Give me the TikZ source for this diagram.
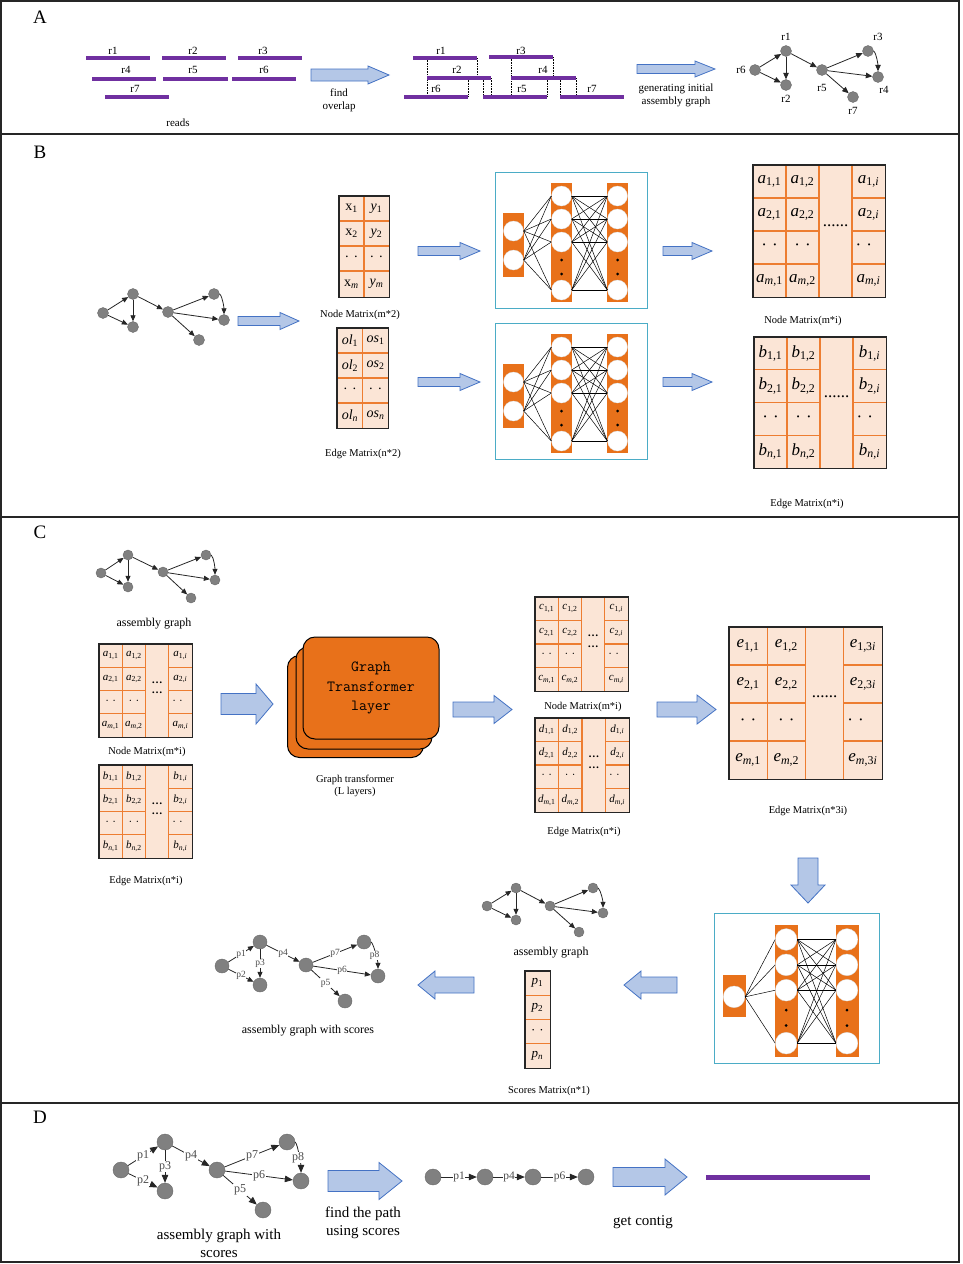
\documentclass[tikz,border=0pt]{standalone}
\usepackage{fontspec}
\setmainfont{Liberation Serif}
\usetikzlibrary{arrows.meta,calc}

\definecolor{purp}{HTML}{7030A0}
\definecolor{ngray}{HTML}{808080}
\definecolor{ngrayd}{HTML}{6A6A6A}
\definecolor{arrfill}{HTML}{B4C7E7}
\definecolor{arrdraw}{HTML}{4472C4}
\definecolor{matfill}{HTML}{FBE5D6}
\definecolor{matgrid}{HTML}{ED7D31}
\definecolor{netcyan}{HTML}{4BACC6}
\definecolor{orng}{HTML}{E8711A}

\newcommand\gtl{6pt}
\newcommand\gtw{5pt}

\tikzset{
 panelline/.style={line width=1.3pt,draw=black!85},
 readbar/.style={line width=4pt,draw=purp},
 ovl/.style={line width=0.6pt,densely dotted,draw=black},
 gn/.style={circle,fill=ngray,draw=ngrayd,line width=0.4pt,inner sep=0pt},
 ge/.style={line width=0.8pt,draw=black!85,-{Triangle[length=\gtl,width=\gtw]}},
 elbl/.style={fill=white,inner sep=0.6pt,text=black!70},
 barr/.style={fill=arrfill,draw=arrdraw,line width=0.8pt},
 matbox/.style={fill=matfill,draw=none,inner sep=0pt},
 matgl/.style={draw=matgrid,line width=1.1pt},
 matbd/.style={draw=black!85,line width=1.4pt},
 netbox/.style={draw=netcyan,line width=1.4pt,inner sep=0pt,fill=white},
 ncol/.style={fill=orng,draw=none,inner sep=0pt},
 ncirc/.style={circle,fill=white,draw=black!15,line width=0.3pt,inner sep=0pt},
 ndot/.style={circle,fill=black,inner sep=0pt,minimum size=3pt},
 nline/.style={line width=0.5pt,draw=black},
 gtbox/.style={rounded corners=12pt,fill=orng,draw=black,line width=1pt,minimum width=136pt,minimum height=102pt,inner sep=0pt},
 lab/.style={font=\fontsize{10.5}{12}\selectfont},
 lab11/.style={font=\fontsize{11}{13}\selectfont},
 lab12/.style={font=\fontsize{12}{14}\selectfont},
 lab15/.style={font=\fontsize{15}{18.5}\selectfont,align=center},
 pletter/.style={font=\fontsize{19}{22}\selectfont},
}

\newcommand\mxent[2]{\textit{#1}\textsubscript{#2}}
\newcommand\mxdots{·\hspace{0.3em}·}

% block arrow: tail x, tip x, centre y, shaft half, head half, head base x
\newcommand\barrow[6]{\filldraw[barr] (#1,{#3-#4}) -- (#6,{#3-#4}) -- (#6,{#3-#5}) -- (#2,#3) -- (#6,{#3+#5}) -- (#6,{#3+#4}) -- (#1,{#3+#4}) -- cycle;}
% down arrow: centre x, top y, tip y, shaft half, head half, head base y
\newcommand\dbarrow[6]{\filldraw[barr] ({#1-#4},#2) -- ({#1-#4},#6) -- ({#1-#5},#6) -- (#1,#3) -- ({#1+#5},#6) -- ({#1+#4},#6) -- ({#1+#4},#2) -- cycle;}

% seven node graph
\newcommand\gsev[9]{%
 \node[gn,minimum size=#2] (#1a) at (#3) {};
 \node[gn,minimum size=#2] (#1b) at (#4) {};
 \node[gn,minimum size=#2] (#1c) at (#5) {};
 \node[gn,minimum size=#2] (#1d) at (#6) {};
 \node[gn,minimum size=#2] (#1e) at (#7) {};
 \node[gn,minimum size=#2] (#1f) at (#8) {};
 \node[gn,minimum size=#2] (#1g) at (#9) {};
 \draw[ge] (#1a) -- (#1b);
 \draw[ge] (#1a) -- (#1c);
 \draw[ge] (#1b) -- (#1c);
 \draw[ge] (#1b) -- (#1d);
 \draw[ge] (#1d) -- (#1e);
 \draw[ge] (#1d) -- (#1f);
 \draw[ge] (#1d) -- (#1g);
 \draw[ge] (#1e.east) .. controls +(3,3) and +(0,-6) .. (#1f.north);
}
\newcommand\gscore[2]{%
 \begin{scope}[font=\fontsize{#2}{#2}\selectfont]
 \node[elbl] (#1p1) at ($(#1a)!0.5!(#1b)$) {p1};
 \node[elbl] (#1p2) at ($(#1a)!0.5!(#1c)$) {p2};
 \node[elbl] (#1p3) at ($(#1b)!0.5!(#1c)$) {p3};
 \node[elbl] (#1p4) at ($(#1b)!0.5!(#1d)$) {p4};
 \node[elbl] (#1p7) at ($(#1d)!0.5!(#1e)$) {p7};
 \node[elbl] (#1p6) at ($(#1d)!0.5!(#1f)$) {p6};
 \node[elbl] (#1p5) at ($(#1d)!0.5!(#1g)$) {p5};
 \node[elbl] (#1p8) at ($(#1e.east)!0.5!(#1f.north)$) {p8};
 \end{scope}}

% matrix with 4x4 cells, middle column dotted
\newcommand\mymat[9]{%
 \node[matbox,anchor=north west,minimum width={4*#5},minimum height={4*#6}] (#1) at (#3,#4) {};
 \foreach \k in {1,2,3} \draw[matgl] ({#3+\k*#5},#4) -- ({#3+\k*#5},{#4+4*#6});
 \foreach \rr in {1,2,3} {%
  \draw[matgl] (#3,{#4+\rr*#6}) -- ({#3+2*#5},{#4+\rr*#6});
  \draw[matgl] ({#3+3*#5},{#4+\rr*#6}) -- ({#3+4*#5},{#4+\rr*#6});}
 \draw[matbd] (#1.north west) rectangle (#1.south east);
 \begin{scope}[font=\fontsize{#7}{#7}\selectfont]
  \node (#1-11) at ({#3+0.5*#5},{#4+0.5*#6}) {\mxent{#2}{1,1}};
  \node (#1-12) at ({#3+1.5*#5},{#4+0.5*#6}) {\mxent{#2}{1,2}};
  \node (#1-1i) at ({#3+3.5*#5},{#4+0.5*#6}) {\mxent{#2}{1,#8}};
  \node (#1-21) at ({#3+0.5*#5},{#4+1.5*#6}) {\mxent{#2}{2,1}};
  \node (#1-22) at ({#3+1.5*#5},{#4+1.5*#6}) {\mxent{#2}{2,2}};
  \node (#1-2i) at ({#3+3.5*#5},{#4+1.5*#6}) {\mxent{#2}{2,#8}};
  \node (#1-31) at ({#3+0.5*#5},{#4+2.5*#6}) {\mxdots};
  \node (#1-32) at ({#3+1.5*#5},{#4+2.5*#6}) {\mxdots};
  \node[anchor=west] (#1-3i) at ({#3+3*#5},{#4+2.5*#6}) {\mxdots};
  \node (#1-n1) at ({#3+0.5*#5},{#4+3.5*#6}) {\mxent{#2}{\textit{#9},1}};
  \node (#1-n2) at ({#3+1.5*#5},{#4+3.5*#6}) {\mxent{#2}{\textit{#9},2}};
  \node (#1-ni) at ({#3+3.5*#5},{#4+3.5*#6}) {\mxent{#2}{\textit{#9},#8}};
  \ifdim #5pt>30pt
   \node[anchor=base] (#1-dd) at ({#3+2.5*#5},{#4+1.85*#6}) {......};
  \else
   \node[anchor=base,inner sep=0pt] (#1-d1) at ({#3+2.5*#5},{#4+1.68*#6}) {\textbf{…}};
   \node[anchor=base,inner sep=0pt] (#1-d2) at ({#3+2.5*#5},{#4+2.15*#6}) {\textbf{…}};
  \fi
 \end{scope}}

% neural network: prefix, x0, y0, xscale, yscale, input col top, bottom, input ys
\newcommand\nnet[8]{%
\begin{scope}[shift={(#2,#3)},xscale=#4,yscale=#5]
 \node[netbox,anchor=north west,minimum width={152*#4},minimum height={136*#5}] (#1box) at (0,0) {};
 \node[ncol,anchor=north west,minimum width={21*#4},minimum height={(#7-#6)*#5}] (#1cin) at (8,#6) {};
 \node[ncol,anchor=north west,minimum width={21*#4},minimum height={119*#5}] (#1ch) at (56,11) {};
 \node[ncol,anchor=north west,minimum width={21*#4},minimum height={119*#5}] (#1co) at (112,11) {};
 \foreach \yy [count=\k] in {24,47,70,118} {
  \node[ncirc,minimum size={20*#4}] (#1h\k) at (66.5,\yy) {};
  \node[ncirc,minimum size={20*#4}] (#1o\k) at (122.5,\yy) {};}
 \foreach \yy [count=\k] in {88,102} {
  \node[ndot] (#1hd\k) at (66.5,\yy) {};
  \node[ndot] (#1od\k) at (122.5,\yy) {};}
 \foreach \k in {1,...,4} \foreach \j in {1,...,4} \draw[nline] (#1h\k.east) -- (#1o\j.west);
 \foreach \yy [count=\k] in {#8} {
  \node[ncirc,minimum size={20*#4}] (#1i\k) at (18.5,\yy) {};
  \foreach \j in {1,...,4} \draw[nline] (#1i\k.east) -- (#1h\j.west);}
\end{scope}}

\begin{document}
\begin{tikzpicture}[x=1pt,y=-1pt]
\useasboundingbox (0,0) rectangle (962,1264);
\fill[white] (0,0) rectangle (962,1264);

% ---------- frame ----------
\draw[panelline] (1,1) rectangle (959,1262);
\draw[panelline] (1,134) -- (959,134);
\draw[panelline] (1,517) -- (959,517);
\draw[panelline] (1,1103) -- (959,1103);

\node[pletter] (letA) at (40,17) {A};
\node[pletter] (letB) at (40,152) {B};
\node[pletter] (letC) at (40,532) {C};
\node[pletter] (letD) at (40,1117) {D};

% ---------- Panel A ----------
\foreach \xa/\xb/\yy/\lx/\ly/\t in {86/150/58/113/51/r1,162/226/58/193/51/r2,238/302/58/263/51/r3,
  92/156/79/126/70/r4,163/228/79/193/70/r5,232/296/79/264/70/r6,105/169/97/135/89/r7}{
  \draw[readbar] (\xa,\yy) -- (\xb,\yy);
  \node[lab11] (rd\t) at (\lx,\ly) {\t};}
\node[lab11] (reads) at (178,123) {reads};

\barrow{311}{389}{75}{6}{9}{368}
\node[lab11,align=center] (findov) at (339,100) {find\\overlap};

\foreach \xx/\ya/\yb in {427/58/97,477/58/78,468/78/97,483/78/97,491/78/97,511/57/97,553/57/78,547/78/97,560/78/97,576/78/97}
  \draw[ovl] (\xx,\ya) -- (\xx,\yb);
\foreach \xa/\xb/\yy/\lx/\ly/\t in {413/477/58/441/51/r1,427/491/78/457/70/r2,404/468/97/436/89/r6,
  489/553/57/521/51/r3,511/576/78/543/70/r4,483/547/97/522/89/r5,560/624/97/592/89/r7}{
  \draw[readbar] (\xa,\yy) -- (\xb,\yy);
  \node[lab11] (ov\t) at (\lx,\ly) {\t};}

\barrow{637}{715}{69}{4.5}{8}{695}
\node[lab11,align=center] (geninit) at (676,95) {generating initial\\assembly graph};

\begin{scope}
\renewcommand\gtl{6.5pt}\renewcommand\gtw{5.5pt}
\gsev{ga}{11}{755,70}{786,51}{786,85}{822,70}{868,51}{878,77}{853,97}
\end{scope}
\node[lab11] (gar1) at (786,37) {r1};
\node[lab11] (gar6) at (741,70) {r6};
\node[lab11] (gar2) at (786,99) {r2};
\node[lab11] (gar5) at (822,88) {r5};
\node[lab11] (gar3) at (878,37) {r3};
\node[lab11] (gar4) at (884,90) {r4};
\node[lab11] (gar7) at (853,111) {r7};

% ---------- Panel B ----------
\gsev{gb}{11}{103,313}{133,294}{133,327}{168,312}{214,294}{224,320}{199,340}
\barrow{238}{299}{321}{4.5}{8.5}{280}

% node matrix m*2
\node[matbox,anchor=north west,minimum width=50,minimum height=101] (nm) at (339,196) {};
\draw[matgl] (364,196) -- (364,297);
\foreach \yy in {221,246,271} \draw[matgl] (339,\yy) -- (389,\yy);
\draw[matbd] (nm.north west) rectangle (nm.south east);
\begin{scope}[font=\fontsize{14}{14}\selectfont]
\node (nm11) at (351.5,208.5) {x\textsubscript{1}};
\node (nm12) at (376.5,208.5) {\mxent{y}{1}};
\node (nm21) at (351.5,233.5) {x\textsubscript{2}};
\node (nm22) at (376.5,233.5) {\mxent{y}{2}};
\node (nm31) at (351.5,258.5) {\mxdots};
\node (nm32) at (376.5,258.5) {\mxdots};
\node (nm41) at (351.5,284) {x\textsubscript{\textit{m}}};
\node (nm42) at (376.5,284) {\mxent{y}{\textit{m}}};
\end{scope}
\node[lab] (nmlab) at (360,315) {Node Matrix(m*2)};

% edge matrix n*2
\node[matbox,anchor=north west,minimum width=51,minimum height=100] (em) at (337,328) {};
\draw[matgl] (362.5,328) -- (362.5,428);
\foreach \yy in {353,378,403} \draw[matgl] (337,\yy) -- (388,\yy);
\draw[matbd] (em.north west) rectangle (em.south east);
\begin{scope}[font=\fontsize{14}{14}\selectfont]
\node (em11) at (350,340.5) {\mxent{ol}{1}};
\node (em12) at (375.5,340.5) {\mxent{os}{1}};
\node (em21) at (350,365.5) {\mxent{ol}{2}};
\node (em22) at (375.5,365.5) {\mxent{os}{2}};
\node (em31) at (350,390.5) {\mxdots};
\node (em32) at (375.5,390.5) {\mxdots};
\node (em41) at (350,415.5) {\mxent{ol}{\textit{n}}};
\node (em42) at (375.5,415.5) {\mxent{os}{\textit{n}}};
\end{scope}
\node[lab] (emlab) at (363,454) {Edge Matrix(n*2)};

\barrow{418}{480}{251}{4.5}{8.5}{460}
\barrow{418}{480}{382}{4.5}{8.5}{460}
\nnet{nbA}{495}{172}{1}{1}{41}{105}{59,88}
\nnet{nbB}{495}{323}{1}{1}{41}{105}{59,88}
\barrow{663}{712}{251}{4.5}{8.5}{692}
\barrow{663}{712}{382}{4.5}{8.5}{692}

\mymat{ma}{a}{753}{165}{33}{33}{17}{\textit{i}}{m}
\node[lab] (malab) at (803,321) {Node Matrix(m*i)};
\mymat{mb}{b}{754}{337}{33}{32.75}{17}{\textit{i}}{n}
\node[lab] (mblab) at (807,504) {Edge Matrix(n*i)};

% ---------- Panel C ----------
\gsev{gc}{10}{101,573}{128,555}{128,587}{163,572}{206,555}{215,580}{191,598}
\node[lab12] (gclab) at (154,624) {assembly graph};

\mymat{mca}{a}{99}{644}{23.25}{23.25}{11}{\textit{i}}{m}
\node[lab] (mcalab) at (147,752) {Node Matrix(m*i)};
\mymat{mcb}{b}{99}{765}{23.25}{23.25}{11}{\textit{i}}{n}
\node[lab] (mcblab) at (146,881) {Edge Matrix(n*i)};

\barrow{221}{273}{704}{10.5}{20}{256}

\node[gtbox] (gt3) at (355.5,706.5) {};
\node[gtbox] (gt2) at (364,698) {};
\node[gtbox,align=center,font=\ttfamily\fontsize{15.5}{19.5}\selectfont] (gt1) at (371,688) {Graph\\Transformer\\layer};
\node[lab,align=center] (gtlab) at (355,785.5) {Graph transformer\\(L layers)};

\barrow{453}{512}{709.5}{7.5}{14}{494}

\mymat{mcc}{c}{535}{597}{23.25}{23.5}{11}{\textit{i}}{m}
\node[lab] (mcclab) at (583,707) {Node Matrix(m*i)};
\mymat{mcd}{d}{535}{718}{23.5}{23.5}{11}{\textit{i}}{m}
\node[lab] (mcdlab) at (584,832) {Edge Matrix(n*i)};

\barrow{657}{716}{709.5}{7.5}{14.5}{697}

\mymat{mce}{e}{729}{627}{38.25}{38}{17}{3\textit{i}}{m}
\node[lab] (mcelab) at (808,811) {Edge Matrix(n*3i)};

\dbarrow{808}{858}{903}{10}{17}{885}
\nnet{nc}{714}{913}{1.0855}{1.103}{56}{94}{76}

\barrow{677}{624}{985}{8}{14}{641}

\gsev{gd}{10}{487,906}{516,888}{516,920}{550,906}{593,888}{603,913}{579,932}
\node[lab12] (gdlab) at (551,953) {assembly graph};

% scores matrix
\node[matbox,anchor=north west,minimum width=25,minimum height=97] (sm) at (525,971) {};
\foreach \yy in {995.25,1019.5,1043.75} \draw[matgl] (525,\yy) -- (550,\yy);
\draw[matbd] (sm.north west) rectangle (sm.south east);
\begin{scope}[font=\fontsize{13}{13}\selectfont]
\node (sm1) at (537.5,983) {\mxent{p}{1}};
\node (sm2) at (537.5,1007.5) {\mxent{p}{2}};
\node (sm3) at (537.5,1031.5) {\mxdots};
\node (sm4) at (537.5,1056) {\mxent{p}{\textit{n}}};
\end{scope}
\node[lab] (smlab) at (549,1091) {Scores Matrix(n*1)};

\barrow{474}{418}{985}{8}{14}{435}

\begin{scope}
\renewcommand\gtl{6pt}\renewcommand\gtw{5pt}
\gsev{gs}{14}{222,966}{260,942}{260,985}{306,965}{364,942}{378,976}{345,1001}
\gscore{gs}{9.5}
\end{scope}
\node[lab12] (gslab) at (308,1031) {assembly graph with scores};

% ---------- Panel D ----------
\begin{scope}
\renewcommand\gtl{8pt}\renewcommand\gtw{6.5pt}
\gsev{gt}{16}{121,1170}{165,1142}{165,1191}{217,1170}{287,1142}{301,1181}{263,1210}
\gscore{gt}{12}
\end{scope}
\node[lab15] (gtlab2) at (219,1243.5) {assembly graph with\\scores};

\barrow{328}{402}{1181}{10.5}{18.5}{379}
\node[lab15] (findpath) at (363,1223) {find the path\\using scores};

\begin{scope}
\renewcommand\gtl{8pt}\renewcommand\gtw{6.5pt}
\node[gn,minimum size=16] (q1) at (433,1177) {};
\node[gn,minimum size=16] (q2) at (485,1177) {};
\node[gn,minimum size=16] (q3) at (533,1177) {};
\node[gn,minimum size=16] (q4) at (586,1177) {};
\draw[ge] (q1) -- node[elbl,font=\fontsize{11.5}{12}\selectfont] (qp1) {p1} (q2);
\draw[ge] (q2) -- node[elbl,font=\fontsize{11.5}{12}\selectfont] (qp4) {p4} (q3);
\draw[ge] (q3) -- node[elbl,font=\fontsize{11.5}{12}\selectfont] (qp6) {p6} (q4);
\end{scope}

\barrow{613}{687}{1177}{9.5}{18}{665}
\node[lab15] (getcontig) at (643,1222) {get contig};
\coordinate (ctgA) at (706,1177);
\coordinate (ctgB) at (870,1177);
\draw[line width=5pt,draw=purp] (ctgA) -- (ctgB);

\end{tikzpicture}
\end{document}
